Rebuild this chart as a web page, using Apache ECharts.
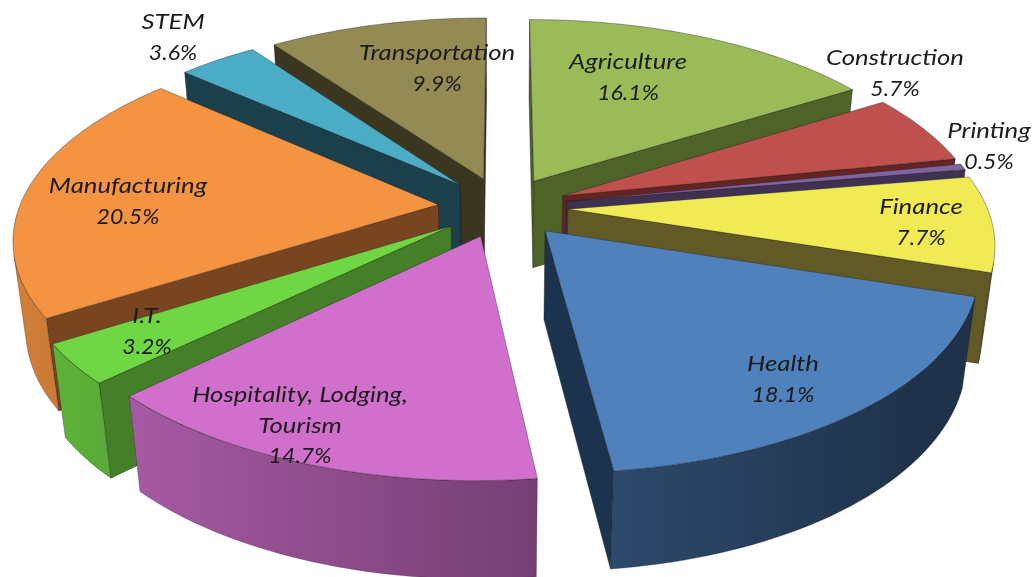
<!DOCTYPE html>
<html><head><meta charset="utf-8">
<style>html,body{margin:0;padding:0;background:#fff}#c{width:1033px;height:577px}</style>
<script src="https://cdn.jsdelivr.net/npm/echarts@6/dist/echarts.min.js"></script>
</head><body><div id="c"></div>
<script>
// Data, clockwise from twelve o'clock
var names = ['Agriculture','Construction','Printing','Finance','Health','Hospitality, Lodging,\nTourism','I.T.','Manufacturing','STEM','Transportation'];
var values = [16.1,5.7,0.5,7.7,18.1,14.7,3.2,20.5,3.6,9.9];
// Styles
var topColors  = ['#9BBB59','#C0504D','#8064A2','#F0EA54','#4F81BD','#D070CC','#6FD644','#F49342','#4BACC6','#948A54'];
var wallColors = ['#4F6228','#632523','#403152','#625A26','#1C334F','#6E3D6E','#457F2A','#794520','#1C3F4C','#3B3620'];
// Label centres in pixels (layout only)
var labelX = [628,895,989,921,783,300,147,128,173,437];
var labelY = [62,58,131,207,364,395,316,186,22,53];
var labelLine = 30.5;

// Projection of the tilted disc (layout only)
var cx=503, cy=207, A=419, B=195, K=0.16, DEPTH=90, M=0.026, EXPLODE=0.155;
function project(u,v,low){
  var w=1+K*v+(low?M:0);
  return [cx+A*u/w, cy+((low?DEPTH:0)-B*v)/w];
}
function rgb(h){return [1,3,5].map(function(i){return parseInt(h.substr(i,2),16);});}
function shade(h,f){return 'rgb('+rgb(h).map(function(c){return Math.round(Math.min(255,c*f));}).join(',')+')';}
function shadeAt(t){return Math.max(0.39,0.60-0.28*Math.sin(t));}
function area(p){var s=0;for(var i=0;i<p.length;i++){var a=p[i],b=p[(i+1)%p.length];s+=a[0]*b[1]-b[0]*a[1];}return s;}

var total=values.reduce(function(a,b){return a+b;},0);
var rows=[],acc=0;
values.forEach(function(val,i){rows.push([acc,acc+val,i]);acc+=val;});
// far slices are painted first
rows.sort(function(a,b){
  return Math.cos((b[0]+b[1])/total*Math.PI)-Math.cos((a[0]+a[1])/total*Math.PI);
});

function renderItem(params,api){
  var t0=api.value(0)/total*2*Math.PI, t1=api.value(1)/total*2*Math.PI, i=api.value(2);
  var m=(t0+t1)/2, eu=EXPLODE*Math.sin(m), ev=EXPLODE*Math.cos(m);
  var n=Math.max(2,Math.ceil((t1-t0)/(Math.PI/120)));
  var rim=[];
  for(var k=0;k<=n;k++){var t=t0+(t1-t0)*k/n;rim.push({t:t,u:eu+Math.sin(t),v:ev+Math.cos(t)});}
  var apex={u:eu,v:ev};
  var kids=[];
  function quad(P,Q){return [project(P.u,P.v),project(Q.u,Q.v),project(Q.u,Q.v,true),project(P.u,P.v,true)];}
  function wall(P,Q){
    var q=quad(P,Q);
    if(area(q)<0){
      kids.push({type:'polygon',shape:{points:q},style:{fill:wallColors[i],stroke:'rgba(20,20,20,0.55)',lineWidth:0.7}});
    }
  }
  wall(apex,rim[0]);
  wall(rim[n],apex);
  // outer wall: the visible run of the arc, one polygon with a gradient along x
  var vis=[];
  for(k=0;k<n;k++){ if(area(quad(rim[k],rim[k+1]))<0){ if(!vis.length)vis.push(rim[k]); vis.push(rim[k+1]); } }
  if(vis.length>1){
    var upper=vis.map(function(r){return project(r.u,r.v);});
    var lower=vis.map(function(r){return project(r.u,r.v,true);}).reverse();
    var xa=upper[0][0], xb=upper[upper.length-1][0];
    var stops=vis.map(function(r,idx){
      return {offset:Math.min(1,Math.max(0,(upper[idx][0]-xa)/((xb-xa)||1))),color:shade(topColors[i],shadeAt(r.t))};
    });
    kids.push({type:'polygon',shape:{points:upper.concat(lower)},style:{
      fill:{type:'linear',global:true,x:xa,y:0,x2:xb,y2:0,colorStops:stops},
      stroke:'rgba(20,20,20,0.45)',lineWidth:0.6}});
  }
  var pts=[project(apex.u,apex.v)].concat(rim.map(function(r){return project(r.u,r.v);}));
  kids.push({type:'polygon',shape:{points:pts},style:{fill:topColors[i],stroke:'rgba(30,30,30,0.55)',lineWidth:0.7}});
  // slice label
  var lines=names[i].split('\n').concat([values[i].toFixed(1)+'%']);
  lines.forEach(function(s,j){
    var isPct=j===lines.length-1;
    kids.push({type:'text',z2:100,x:labelX[i],y:labelY[i]+j*labelLine,scaleX:isPct?1.05:1.17,style:{text:s,align:'center',verticalAlign:'middle',
      font:'italic 22px Lato, sans-serif',fill:'#1c1c1c'}});
  });
  return {type:'group',children:kids};
}
var chart=echarts.init(document.getElementById('c'),null,{renderer:'canvas'});
chart.setOption({
  animation:false,
  backgroundColor:'#fff',
  series:[{type:'custom',coordinateSystem:'none',renderItem:renderItem,data:rows,silent:true,clip:false}]
});
</script></body></html>
